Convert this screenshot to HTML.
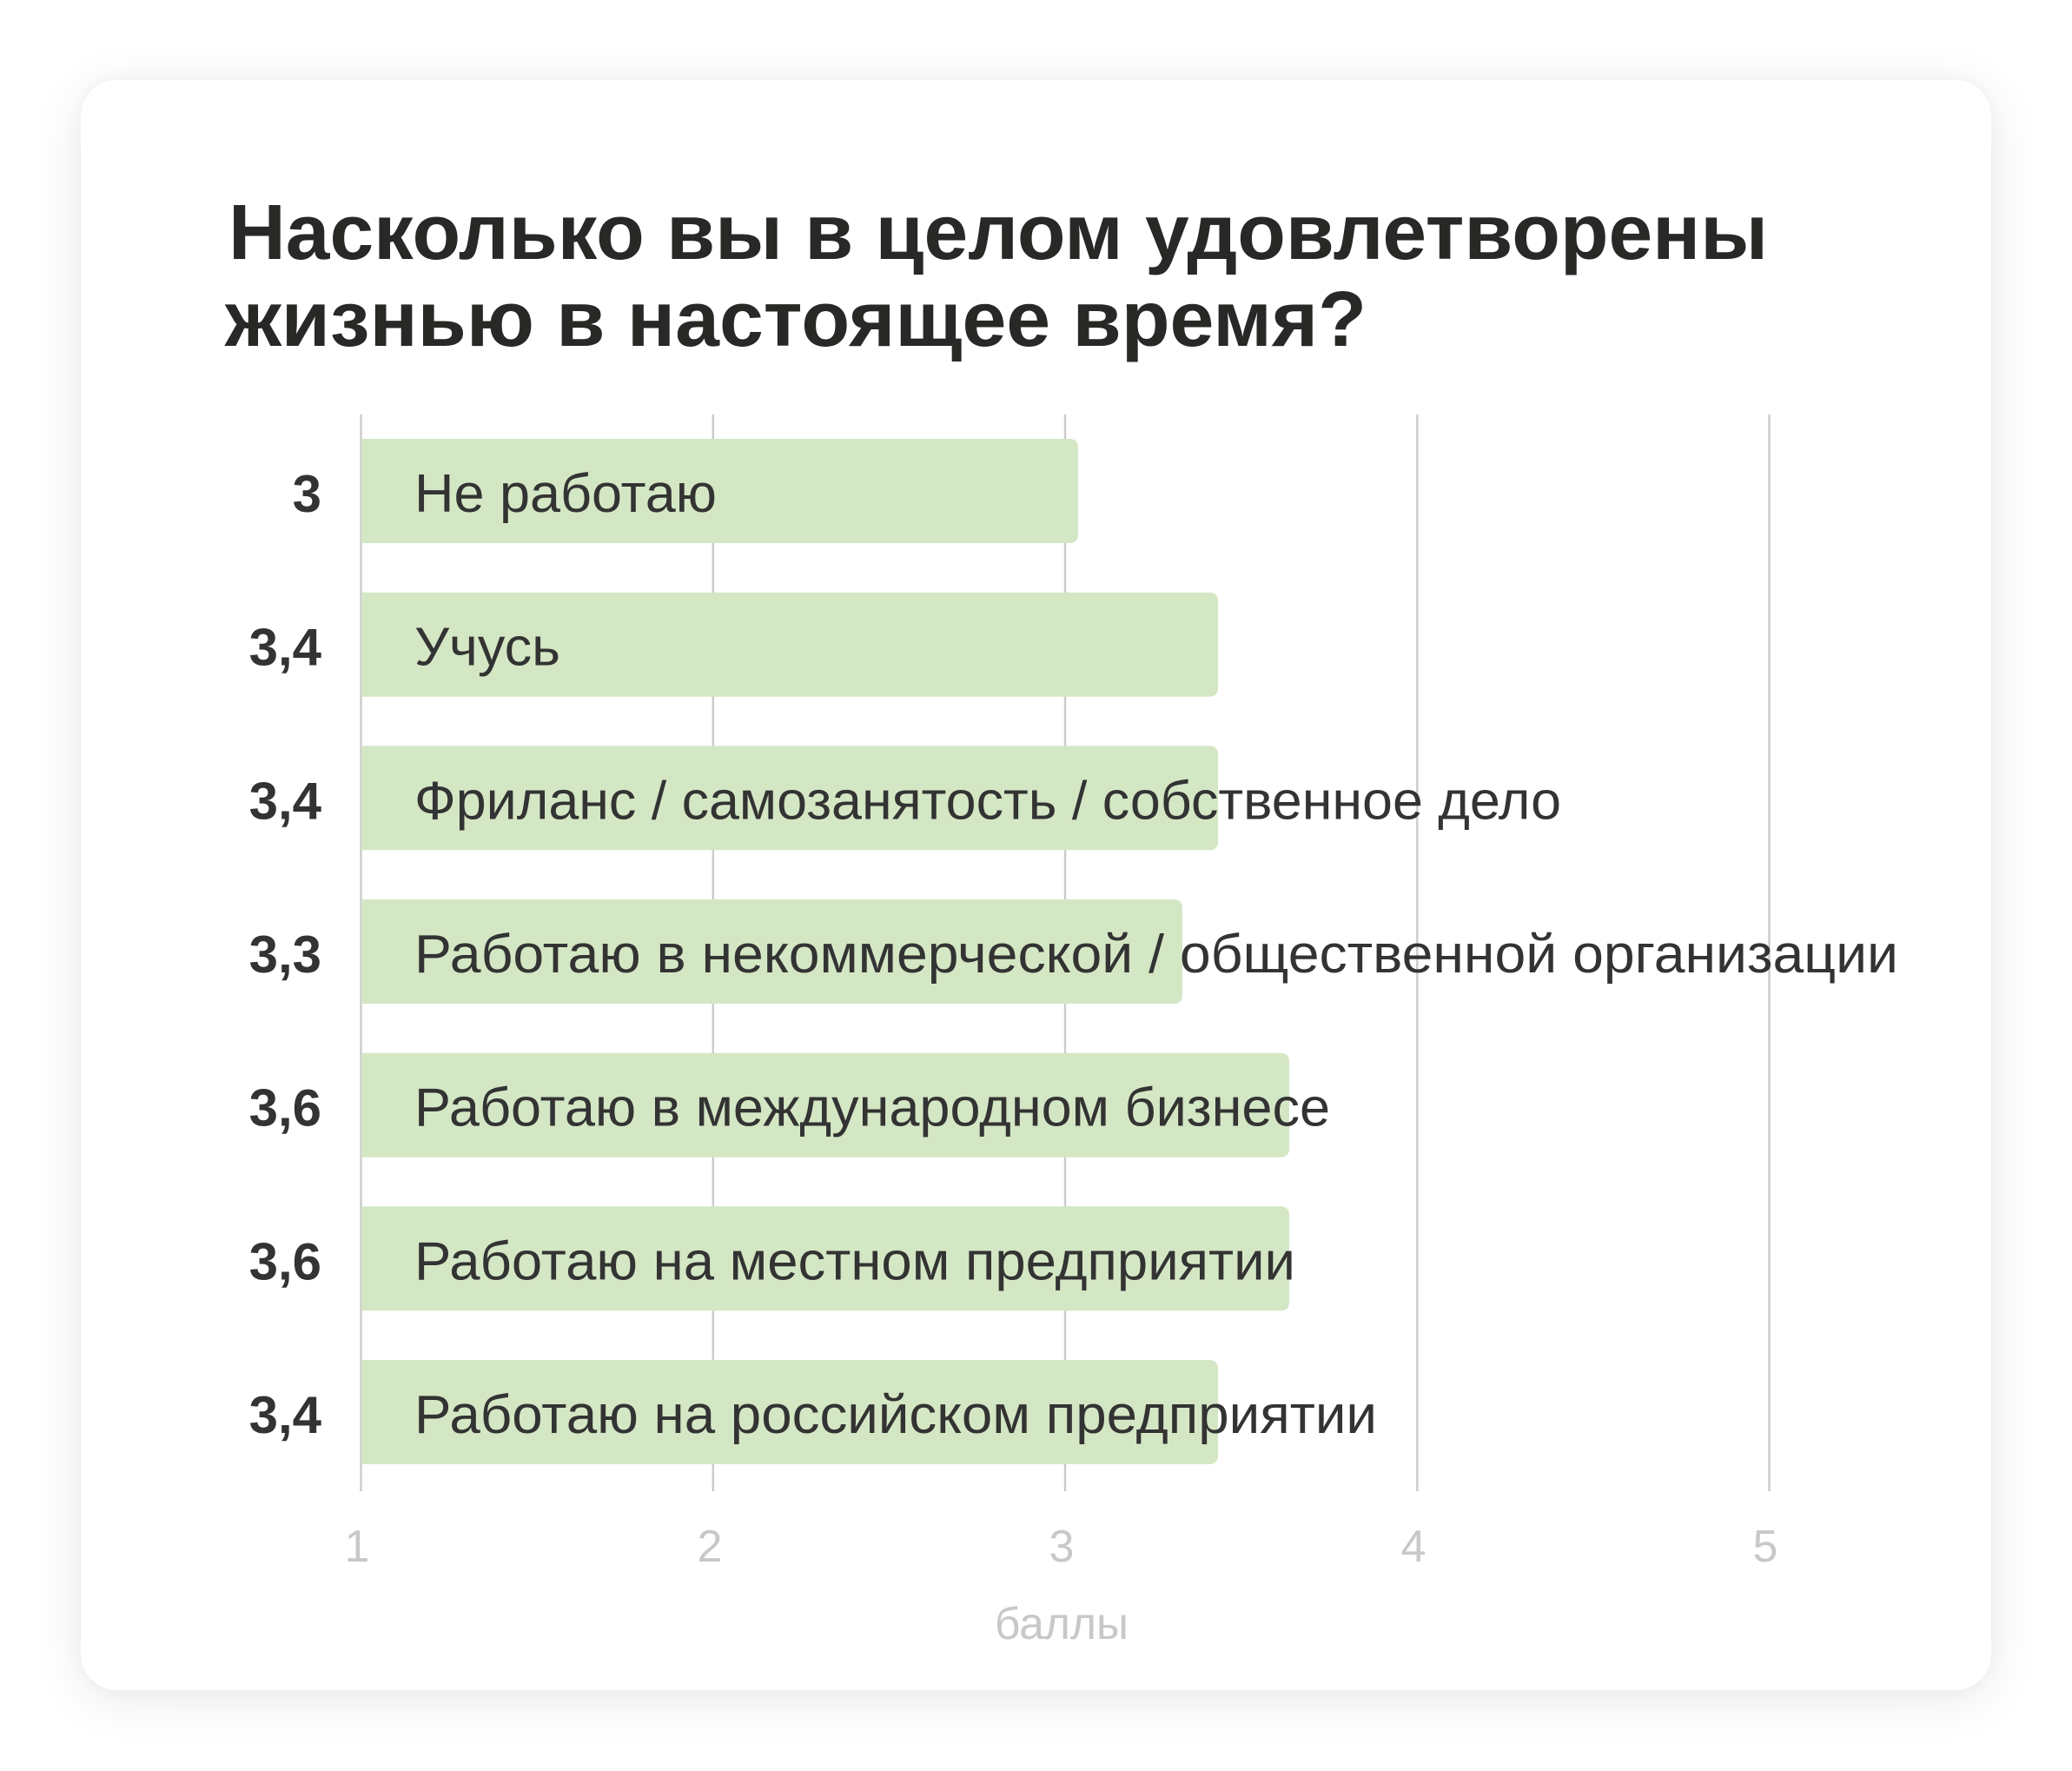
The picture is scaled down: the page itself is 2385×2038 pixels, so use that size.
<!DOCTYPE html>
<html>
<head>
<meta charset="utf-8">
<style>
  html, body { margin:0; padding:0; background:#ffffff; }
  body { width:2385px; height:2038px; position:relative; overflow:hidden; }
  .card {
    position:absolute; left:93px; top:92px; width:2199px; height:1853px;
    background:#ffffff; border-radius:42px;
    box-shadow: 0 10px 60px rgba(0,0,0,0.09), 0 0 20px rgba(0,0,0,0.03);
  }
  svg { position:absolute; left:0; top:0; }
  text { font-family:"Liberation Sans", "DejaVu Sans", sans-serif; }
</style>
</head>
<body>
<div class="card"></div>
<svg width="2385" height="2038" viewBox="0 0 2385 2038" xmlns="http://www.w3.org/2000/svg">
  <!-- Title -->
  <text x="263" y="298" font-size="90" font-weight="bold" fill="#282826" textLength="1772" lengthAdjust="spacingAndGlyphs">Насколько вы в целом удовлетворены</text>
  <text x="259" y="398" font-size="90" font-weight="bold" fill="#282826" textLength="1314" lengthAdjust="spacingAndGlyphs">жизнью в настоящее время?</text>

  <!-- Gridlines -->
  <g stroke="#cbcbcb" stroke-width="2.4">
    <line x1="415.5" y1="477" x2="415.5" y2="1716"/>
    <line x1="820.8" y1="477" x2="820.8" y2="1716"/>
    <line x1="1226" y1="477" x2="1226" y2="1716"/>
    <line x1="1631.3" y1="477" x2="1631.3" y2="1716"/>
    <line x1="2036.5" y1="477" x2="2036.5" y2="1716"/>
  </g>

  <!-- Bars -->
  <g fill="#d4e7c5">
    <path d="M416 505 H1231 Q1241 505 1241 515 V615 Q1241 625 1231 625 H416 Z"/>
    <path d="M416 681.7 H1392 Q1402 681.7 1402 691.7 V791.7 Q1402 801.7 1392 801.7 H416 Z"/>
    <path d="M416 858.3 H1392 Q1402 858.3 1402 868.3 V968.3 Q1402 978.3 1392 978.3 H416 Z"/>
    <path d="M416 1035 H1351 Q1361 1035 1361 1045 V1145 Q1361 1155 1351 1155 H416 Z"/>
    <path d="M416 1211.7 H1474 Q1484 1211.7 1484 1221.7 V1321.7 Q1484 1331.7 1474 1331.7 H416 Z"/>
    <path d="M416 1388.3 H1474 Q1484 1388.3 1484 1398.3 V1498.3 Q1484 1508.3 1474 1508.3 H416 Z"/>
    <path d="M416 1565 H1392 Q1402 1565 1402 1575 V1675 Q1402 1685 1392 1685 H416 Z"/>
  </g>

  <!-- Category labels -->
  <g font-size="62" fill="#333333">
    <text x="477" y="589" textLength="348" lengthAdjust="spacingAndGlyphs">Не работаю</text>
    <text x="477" y="765.7" textLength="168" lengthAdjust="spacingAndGlyphs">Учусь</text>
    <text x="477" y="942.3" textLength="1320" lengthAdjust="spacingAndGlyphs">Фриланс / самозанятость / собственное дело</text>
    <text x="477" y="1119" textLength="1708" lengthAdjust="spacingAndGlyphs">Работаю в некоммерческой / общественной организации</text>
    <text x="477" y="1295.7" textLength="1054" lengthAdjust="spacingAndGlyphs">Работаю в международном бизнесе</text>
    <text x="477" y="1472.3" textLength="1014" lengthAdjust="spacingAndGlyphs">Работаю на местном предприятии</text>
    <text x="477" y="1649" textLength="1108" lengthAdjust="spacingAndGlyphs">Работаю на российском предприятии</text>
  </g>

  <!-- Value labels -->
  <g font-size="60" font-weight="bold" fill="#333333" text-anchor="end">
    <text x="370" y="589">3</text>
    <text x="370" y="765.7">3,4</text>
    <text x="370" y="942.3">3,4</text>
    <text x="370" y="1119">3,3</text>
    <text x="370" y="1295.7">3,6</text>
    <text x="370" y="1472.3">3,6</text>
    <text x="370" y="1649">3,4</text>
  </g>

  <!-- Tick labels -->
  <g font-size="52" fill="#c8c8c8" text-anchor="middle">
    <text x="411" y="1797">1</text>
    <text x="817" y="1797">2</text>
    <text x="1222" y="1797">3</text>
    <text x="1627" y="1797">4</text>
    <text x="2032" y="1797">5</text>
  </g>

  <!-- Axis title -->
  <text x="1222" y="1886" font-size="52" fill="#c8c8c8" text-anchor="middle" textLength="154" lengthAdjust="spacingAndGlyphs">баллы</text>
</svg>
</body>
</html>
